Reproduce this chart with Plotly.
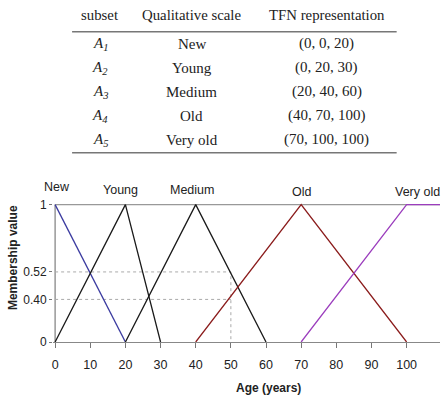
import plotly.graph_objects as go

# ---------------- data ----------------
subsets = ["A<sub>1</sub>", "A<sub>2</sub>", "A<sub>3</sub>", "A<sub>4</sub>", "A<sub>5</sub>"]
scales = ["New", "Young", "Medium", "Old", "Very old"]
tfn_text = ["(0, 0, 20)", "(0, 20, 30)", "(20, 40, 60)", "(40, 70, 100)", "(70, 100, 100)"]
headers = ["subset", "Qualitative scale", "TFN representation"]

new_x = [0, 20]
new_y = [1, 0]
young_x = [0, 20, 30]
young_y = [0, 1, 0]
medium_x = [20, 40, 60]
medium_y = [0, 1, 0]
old_x = [40, 70, 100]
old_y = [0, 1, 0]
veryold_x = [70, 100, 110]
veryold_y = [0, 1, 1]

x_ticks = [0, 10, 20, 30, 40, 50, 60, 70, 80, 90, 100]
y_tickvals = [0, 0.31, 0.51, 1]
y_ticktext = ["0", "0.40", "0.52", "1"]

guide_hi_x = [0, 50, 50]
guide_hi_y = [0.51, 0.51, 0]
guide_lo_x = [0, 50]
guide_lo_y = [0.31, 0.31]

label_x = [0.6, 18.5, 38.9, 70.2, 103]
label_y = [1.13, 1.107, 1.107, 1.09, 1.09]

# ---------------- layout geometry ----------------
W, H = 448, 404
x0px, x1px = 52.9, 440.4
ytop, ybot = 198.1, 342.0
y_unit_px = 137.3
x_range = [-0.6, 109.5]
y_range = [0, (ybot - ytop) / y_unit_px]


def px(x):
    return (x - x0px) / (x1px - x0px)


def py(y):
    return (ybot - y) / (ybot - ytop)


def dx(v):
    return (v - x_range[0]) / (x_range[1] - x_range[0])


def dy(v):
    return (v - y_range[0]) / (y_range[1] - y_range[0])


fig = go.Figure()

line_specs = [
    (new_x, new_y, "#3b3ba0"),
    (young_x, young_y, "#1a1a1a"),
    (medium_x, medium_y, "#1a1a1a"),
    (old_x, old_y, "#8b1c1c"),
    (veryold_x, veryold_y, "#9b3dbd"),
]

# guide dotted lines
fig.add_trace(go.Scatter(x=guide_hi_x, y=guide_hi_y, mode="lines",
                         line=dict(color="#aaaaaa", width=1, dash="dot"),
                         hoverinfo="skip", showlegend=False))
fig.add_trace(go.Scatter(x=guide_lo_x, y=guide_lo_y, mode="lines",
                         line=dict(color="#aaaaaa", width=1, dash="dot"),
                         hoverinfo="skip", showlegend=False))

for xs, ys, c in line_specs:
    fig.add_trace(go.Scatter(x=xs, y=ys, mode="lines",
                             line=dict(color=c, width=1.3),
                             showlegend=False, cliponaxis=False))

annotations = []
for name, lx, ly in zip(scales, label_x, label_y):
    annotations.append(dict(x=dx(lx), y=dy(ly), xref="paper", yref="paper", text=name,
                            showarrow=False, xanchor="center", yanchor="middle",
                            font=dict(family="Liberation Sans, Arial", size=12.5, color="#222222")))

# table
serif = "Liberation Serif, Times New Roman, serif"
col_x = [100, 192, 327]
annotations += [
    dict(x=px(cx), y=py(15), xref="paper", yref="paper", text=h, showarrow=False,
         xanchor="center", yanchor="middle",
         font=dict(family=serif, size=14.8, color="#222222"))
    for cx, h in zip(col_x, headers)
]
row_y = [44, 68, 92, 116, 140]
for i in range(5):
    cells = ["<i>" + subsets[i] + "</i>", scales[i], tfn_text[i]]
    for cx, t in zip(col_x, cells):
        annotations.append(dict(x=px(cx), y=py(row_y[i]), xref="paper", yref="paper",
                                text=t, showarrow=False, xanchor="center", yanchor="middle",
                                font=dict(family=serif, size=15, color="#222222")))

# axis titles
annotations.append(dict(x=px(269), y=py(388), xref="paper", yref="paper",
                        text="<b>Age (years)</b>", showarrow=False,
                        xanchor="center", yanchor="middle",
                        font=dict(family="Liberation Sans, Arial", size=12, color="#222222")))
annotations.append(dict(x=px(13), y=py(258), xref="paper", yref="paper",
                        text="<b>Membership value</b>", showarrow=False, textangle=-90,
                        xanchor="center", yanchor="middle",
                        font=dict(family="Liberation Sans, Arial", size=12, color="#222222")))

shapes = [
    dict(type="line", xref="paper", yref="paper", x0=px(72), x1=px(397), y0=py(32), y1=py(32),
         line=dict(color="#777777", width=1.5)),
    dict(type="line", xref="paper", yref="paper", x0=px(72), x1=px(397), y0=py(153), y1=py(153),
         line=dict(color="#777777", width=1.5)),
    dict(type="line", xref="x", yref="y", x0=0, x1=0, y0=0, y1=1,
         line=dict(color="#888888", width=1.3), layer="below"),
    dict(type="line", xref="x", yref="y", x0=0, x1=110, y0=1, y1=1,
         line=dict(color="#999999", width=1.3), layer="below"),
]

fig.update_layout(
    width=W, height=H,
    margin=dict(l=x0px, r=W - x1px, t=ytop, b=H - ybot, pad=0),
    paper_bgcolor="white", plot_bgcolor="white",
    annotations=annotations, shapes=shapes,
    font=dict(family="Liberation Sans, Arial", size=12, color="#222222"),
    xaxis=dict(range=x_range, tickvals=x_ticks, ticks="outside", ticklen=5,
               tickcolor="#777777", showline=True, linecolor="#888888", linewidth=1.3,
               showgrid=False, zeroline=False, tickfont=dict(size=12.5),
               ticklabelstandoff=6),
    yaxis=dict(range=y_range,
               tickvals=y_tickvals, ticktext=y_ticktext, ticks="outside", ticklen=3,
               tickcolor="#777777", showline=False, showgrid=False, zeroline=False,
               tickfont=dict(size=12)),
)

fig.write_html("out.html")
